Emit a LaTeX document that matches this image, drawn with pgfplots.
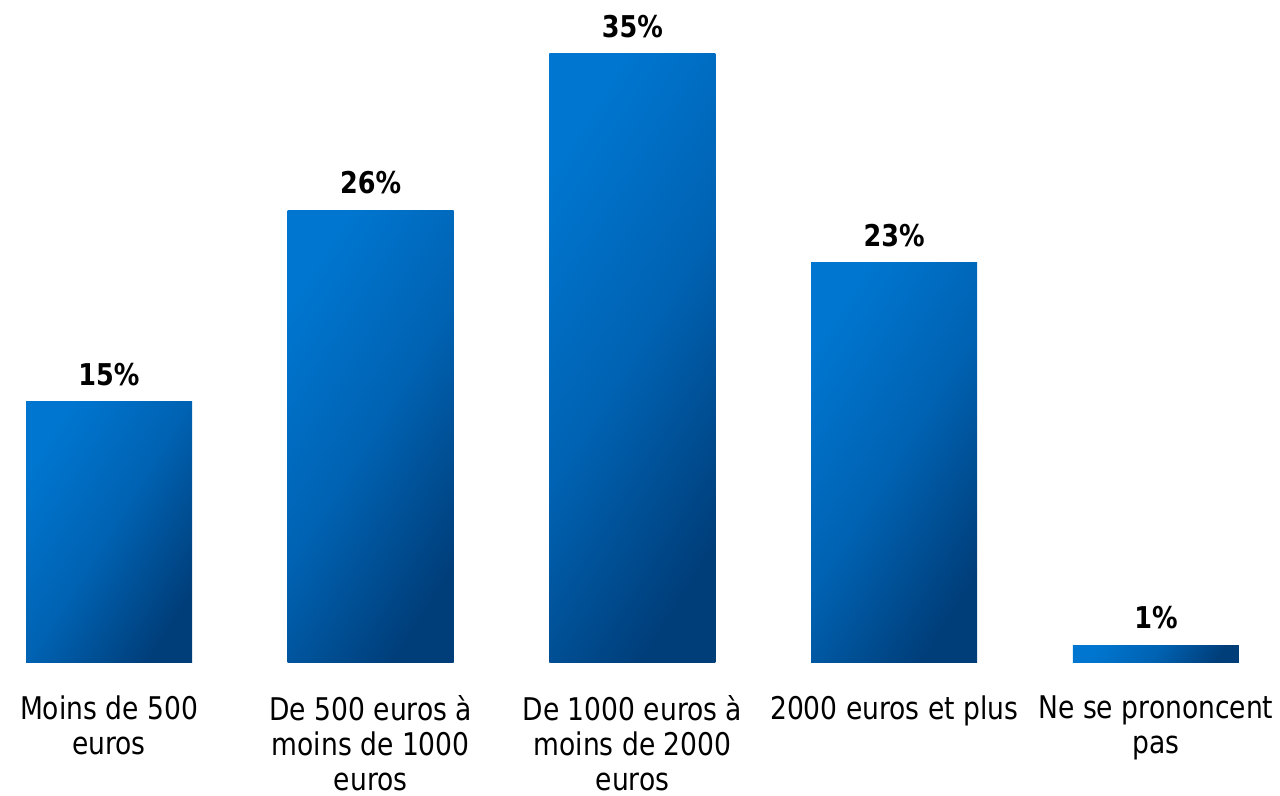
\documentclass[border=0pt]{standalone}
\usepackage{pgfplots}
\pgfplotsset{compat=1.18}
\usepackage{fontspec}
\setmainfont{DejaVu Sans}[FakeStretch=0.85]
\definecolor{bartl}{RGB}{0,118,208}
\definecolor{barmid}{RGB}{0,98,178}
\definecolor{barbr}{RGB}{0,62,122}
\pgfplotsset{gradbar/.style={draw=none, top color=bartl, bottom color=barbr, middle color=barmid, shading angle=58}}
\begin{document}
\begin{tikzpicture}
\begin{axis}[
  name=ax,
  scale only axis,
  width=512pt, height=265.2pt,
  xmin=-0.4165, xmax=4.474,
  ymin=0, ymax=38.1,
  clip=false,
  axis line style={draw=none},
  ytick=\empty,
  xtick={0,1,2,3,4},
  major tick length=0pt,
  xticklabels={{Moins de 500\\euros},{De 500 euros à\\moins de 1000\\euros},{De 1000 euros à\\moins de 2000\\euros},{2000 euros et plus},{Ne se prononcent\\pas}},
  xticklabel style={align=center, font=\fontsize{12.5}{14}\selectfont, anchor=north, yshift=-9.5pt},
  ybar, bar width=66.4pt, bar shift=0pt,
  /pgf/number format/assume math mode=true,
  nodes near coords={\pgfmathprintnumber{\pgfplotspointmeta}\%},
  nodes near coords style={font=\fontsize{12}{14}\selectfont\bfseries, yshift=3pt},
]
\addplot[gradbar] coordinates {(0,15)};
\addplot[gradbar] coordinates {(1,26)};
\addplot[gradbar] coordinates {(2,35)};
\addplot[gradbar] coordinates {(3,23)};
\addplot[gradbar] coordinates {(4,1)};
\end{axis}
\pgfresetboundingbox
\path[use as bounding box] ([yshift=-53.2pt]ax.south west) rectangle (ax.north east);
\end{tikzpicture}
\end{document}
